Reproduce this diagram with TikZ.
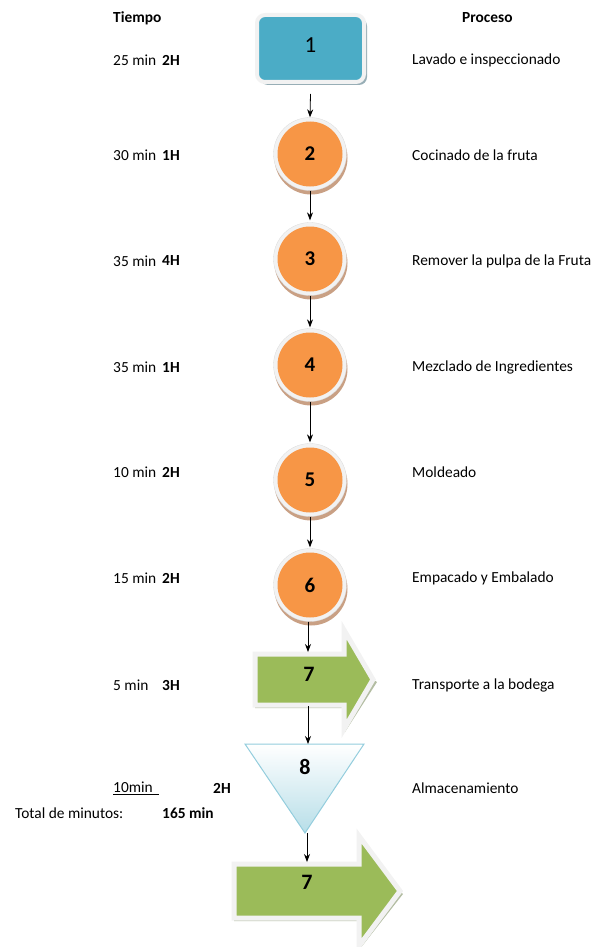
\documentclass[tikz,border=0pt]{standalone}
\usepackage{fontspec}
\setmainfont{Carlito}
\usetikzlibrary{arrows.meta,shadows}
\definecolor{tealbox}{HTML}{4BACC6}
\definecolor{orangec}{HTML}{F79646}
\definecolor{greena}{HTML}{9BBB59}
\definecolor{ring}{HTML}{F2F2F2}
\definecolor{tanshadow}{HTML}{C9A084}
\definecolor{grayshadow}{HTML}{98AEB6}
\definecolor{greenshadow}{HTML}{B3BDA2}
\definecolor{triblue}{HTML}{B7DEE8}
\definecolor{triedge}{HTML}{93CDDD}
\begin{document}
\begin{tikzpicture}[x=1pt,y=-1pt,
  txt/.style={anchor=west,inner sep=0pt,font=\fontsize{15.4}{18}\selectfont},
  btxt/.style={txt,font=\fontsize{15.4}{18}\selectfont\bfseries},
  conn/.style={-{Stealth[length=8pt,width=6pt]},line width=0.8pt},
  circ/.style={circle,minimum size=73pt,inner sep=0pt,fill=ring,draw=ring!80!gray,line width=0.3pt,
    drop shadow={shadow xshift=1pt,shadow yshift=-4pt,fill=tanshadow,opacity=1},
    path picture={\fill[orangec] (path picture bounding box.center) circle (32.5pt);},
    font=\fontsize{21}{24}\selectfont\bfseries},
  numtxt/.style={inner sep=0pt,font=\fontsize{22}{24}\selectfont\bfseries},
  garrow/.style={fill=greena,draw=ring,line width=5pt,line join=miter},
  gshadow/.style={fill=greenshadow}
]
\useasboundingbox (0,0) rectangle (599,947);

% box 1
\node[rectangle,rounded corners=8pt,minimum width=107pt,minimum height=67pt,inner sep=0pt,
  fill=tealbox,draw=ring,line width=4pt,
  drop shadow={shadow xshift=3pt,shadow yshift=-3pt,fill=grayshadow,opacity=1},
  font=\fontsize{23}{24}\selectfont] (n1) at (310.5,48.5) {\raisebox{6pt}{1}};

% circles
\node[circ] (c2) at (310,154) {2};
\node[circ] (c3) at (310,259) {3};
\node[circ] (c4) at (310,365) {4};
\node[circ] (c5) at (310,480) {5};
\node[circ] (c6) at (310,585) {6};

% arrow 7 (first)
\fill[gshadow] (255,708) -- (345,708) -- (345,732) -- (377,682) -- (373,679.5) -- (345,729) -- (345,705) -- (255,705) -- cycle;
\draw[garrow] (255,654) -- (344,654) -- (344,630) -- (373,679.5) -- (344,729) -- (344,705) -- (255,705) -- cycle;
\node[numtxt] (a7) at (309,674) {7};

% triangle 8
\shade[top color=white,bottom color=triblue,draw=triedge,line width=1pt] (245,744) -- (364,744) -- (305,833) -- cycle;
\node[numtxt] (t8) at (305,767) {8};
\coordinate (t8top) at (308,744);
\coordinate (t8bot) at (307,833);

% arrow 7 (second)
\fill[gshadow] (234,921) -- (359,921) -- (359,950) -- (403,894) -- (400,891) -- (359,946) -- (359,918) -- (234,918) -- cycle;
\draw[garrow] (234,864) -- (359,864) -- (359,836) -- (400,891) -- (359,946) -- (359,918) -- (234,918) -- cycle;
\node[numtxt] (a7b) at (307,882) {7};
\coordinate (a7top) at (308,652);
\coordinate (a7bot) at (308,706);
\coordinate (a7btop) at (307,862);

% connectors
\draw[conn] ([yshift=-10pt]n1.south) -- (c2.north);
\draw[conn] (c2.south) -- ([yshift=2pt]c3.north);
\draw[conn] (c3.south) -- ([yshift=1pt]c4.north);
\draw[conn] (c4.south) -- ([yshift=1pt]c5.north);
\draw[conn] (c5.south) -- ([yshift=1pt]c6.north);
\draw[conn] ([xshift=-2pt]c6.south) -- (a7top);
\draw[conn] (a7bot) -- (t8top);
\draw[conn] (t8bot) -- (a7btop);

% headers
\node[btxt] (hT) at (113,18) {Tiempo};
\node[btxt] (hP) at (462,18) {Proceso};

% left column
\node[txt] (m1) at (113,60) {25 min};  \node[btxt] (h1) at (162,60) {2H};
\node[txt] (m2) at (113,155) {30 min}; \node[btxt] (h2) at (162,155) {1H};
\node[txt] (m3) at (113,261) {35 min}; \node[btxt] (h3) at (162,261) {4H};
\node[txt] (m4) at (113,367) {35 min}; \node[btxt] (h4) at (162,367) {1H};
\node[txt] (m5) at (113,472) {10 min}; \node[btxt] (h5) at (162,472) {2H};
\node[txt] (m6) at (113,578) {15 min}; \node[btxt] (h6) at (162,578) {2H};
\node[txt] (m7) at (113,685) {5 min};  \node[btxt] (h7) at (162,685) {3H};
\node[txt] (m8) at (113,788) {\underline{10min\hspace{6pt}}}; \node[btxt] (h8) at (213,788) {2H};
\node[txt] (tot) at (15,813) {Total de minutos:}; \node[btxt] (totv) at (162,813) {165 min};

% right column
\node[txt] (p1) at (412,60) {Lavado e inspeccionado};
\node[txt] (p2) at (412,155) {Cocinado de la fruta};
\node[txt] (p3) at (412,261) {Remover la pulpa de la Fruta};
\node[txt] (p4) at (412,367) {Mezclado de Ingredientes};
\node[txt] (p5) at (412,472) {Moldeado};
\node[txt] (p6) at (412,578) {Empacado y Embalado};
\node[txt] (p7) at (412,685) {Transporte a la bodega};
\node[txt] (p8) at (412,788) {Almacenamiento};
\end{tikzpicture}
\end{document}
